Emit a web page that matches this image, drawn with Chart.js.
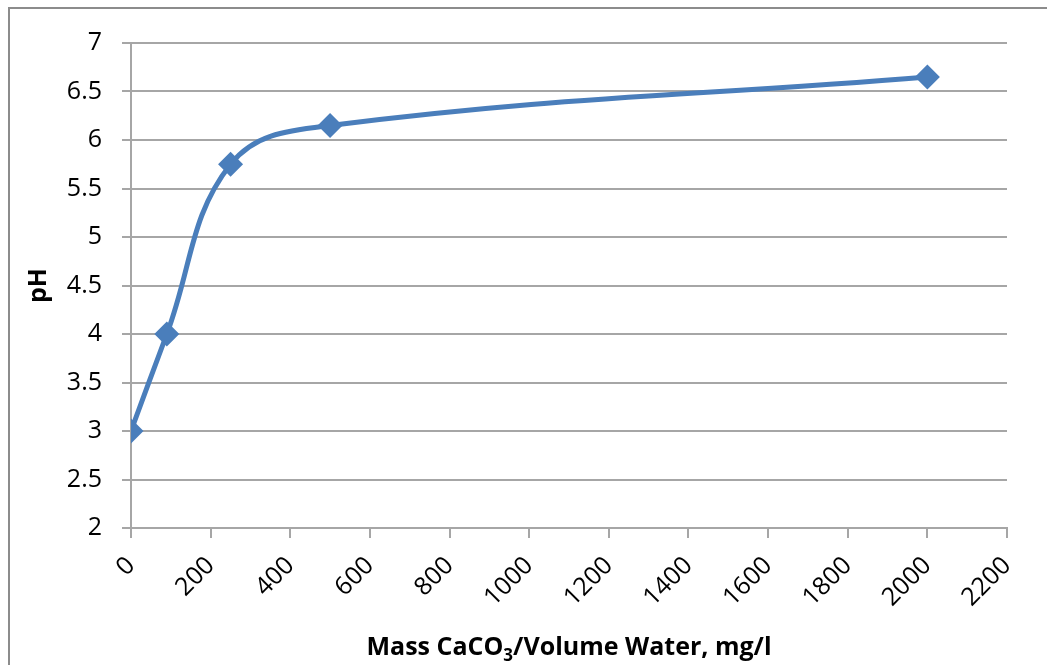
<!DOCTYPE html>
<html>
<head>
<meta charset="utf-8">
<script src="https://cdn.jsdelivr.net/npm/chart.js@4"></script>
<style>
  html, body { margin: 0; padding: 0; background: #fff; }
  #frame { position: absolute; left: 0; top: 0; width: 1047px; height: 665px; }
  #border { position: absolute; left: 8px; top: 7px; width: 1039px; height: 658px;
            border-left: 2px solid #8c8c8c; border-top: 2px solid #8c8c8c; pointer-events: none; }
</style>
</head>
<body>
<div id="frame">
  <canvas id="phChart" width="1047" height="665"></canvas>
  <div id="border"></div>
</div>
<script>
// data
const massValues = [0, 90, 250, 500, 2000];
const phValues = [3, 4, 5.75, 6.15, 6.65];
const xTicks = [0, 200, 400, 600, 800, 1000, 1200, 1400, 1600, 1800, 2000, 2200];
const yTicks = [2, 2.5, 3, 3.5, 4, 4.5, 5, 5.5, 6, 6.5, 7];

const FONT = "'Open Sans', 'Noto Sans', sans-serif";
const BLUE = "#4a7ebb";
const GRID = "#a6a6a6";

// x title with a subscript 3
const xTitlePlugin = {
    id: "xTitle",
    afterDraw(chart) {
        const ctx = chart.ctx;
        const area = chart.chartArea;
        const parts = [
            { t: "Mass CaCO", size: 25, dy: 0 },
            { t: "3", size: 17, dy: 6 },
            { t: "/Volume Water, mg/l", size: 25, dy: 0 }
        ];
        ctx.save();
        ctx.fillStyle = "#000";
        ctx.textBaseline = "alphabetic";
        let total = 0;
        parts.forEach(p => {
            ctx.font = "bold " + p.size + "px " + FONT;
            p.w = ctx.measureText(p.t).width;
            total += p.w;
        });
        let x = (area.left + area.right) / 2 - total / 2;
        const y = 655;
        parts.forEach(p => {
            ctx.font = "bold " + p.size + "px " + FONT;
            ctx.fillText(p.t, x, y + p.dy);
            x += p.w;
        });
        ctx.restore();
    }
};

const ctx = document.getElementById("phChart").getContext("2d");

new Chart(ctx, {
    type: "scatter",
    data: {
        datasets: [{
            data: massValues.map((m, i) => ({ x: m, y: phValues[i] })),
            showLine: true,
            borderColor: BLUE,
            backgroundColor: BLUE,
            borderWidth: 5,
            tension: 0.4,
            pointStyle: "rectRot",
            pointRadius: 12.5,
            pointHoverRadius: 12.5,
            pointBorderWidth: 0
        }]
    },
    options: {
        responsive: false,
        animation: false,
        layout: { padding: { left: 24, top: 43, right: 40, bottom: 0 } },
        plugins: {
            legend: { display: false },
            tooltip: { enabled: false }
        },
        scales: {
            x: {
                type: "linear",
                min: 0,
                max: 2200,
                afterBuildTicks: axis => { axis.ticks = xTicks.map(v => ({ value: v })); },
                afterFit: axis => { axis.height = 137; },
                grid: {
                    display: true,
                    drawOnChartArea: false,
                    drawTicks: true,
                    tickLength: 10,
                    color: GRID,
                    lineWidth: 2
                },
                border: { color: GRID, width: 2 },
                ticks: {
                    minRotation: 45,
                    maxRotation: 45,
                    padding: 13,
                    color: "#000",
                    font: { family: FONT, size: 25 },
                    callback: v => String(v)
                }
            },
            y: {
                min: 2,
                max: 7,
                afterBuildTicks: axis => { axis.ticks = yTicks.map(v => ({ value: v })); },
                afterFit: axis => { axis.width = 107; },
                grid: {
                    color: GRID,
                    lineWidth: 2,
                    tickLength: 9
                },
                border: { color: GRID, width: 2 },
                ticks: {
                    padding: 20,
                    color: "#000",
                    font: { family: FONT, size: 25 },
                    callback: v => String(v)
                },
                title: {
                    display: true,
                    text: "pH",
                    color: "#000",
                    padding: { top: 0, bottom: 10 },
                    font: { family: FONT, size: 25, weight: "bold" }
                }
            }
        }
    },
    plugins: [xTitlePlugin]
});
</script>
</body>
</html>
